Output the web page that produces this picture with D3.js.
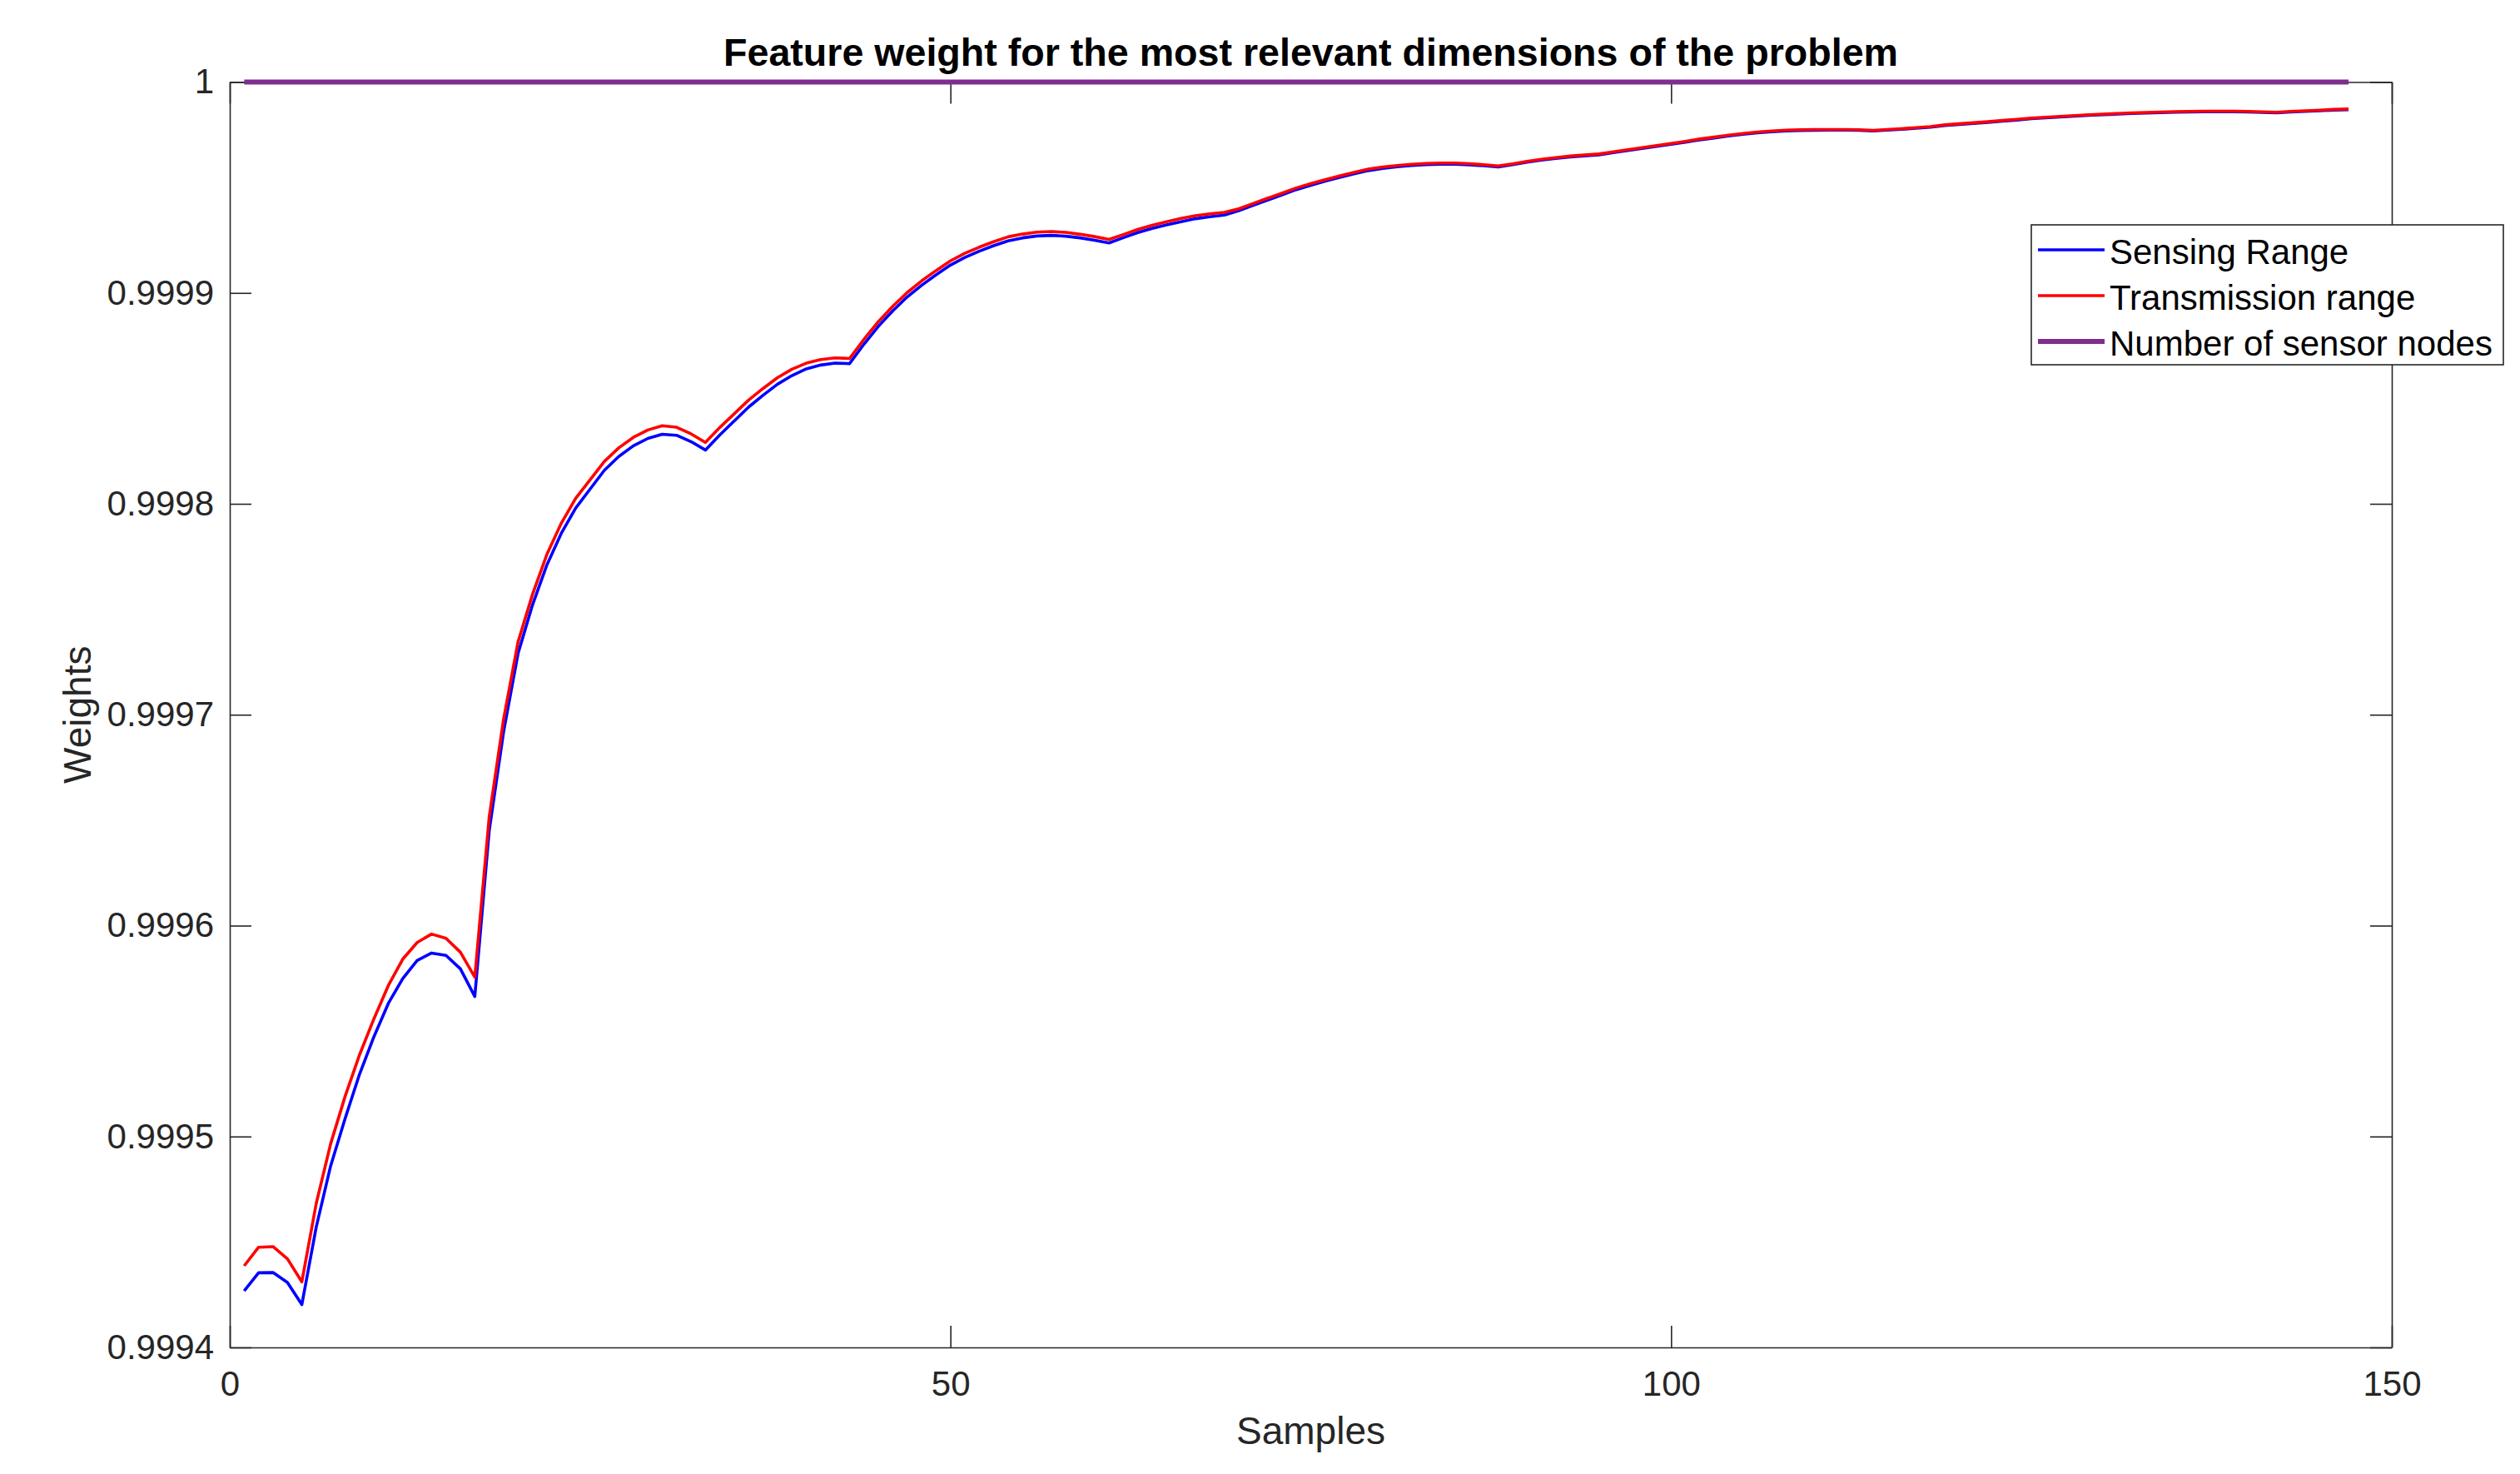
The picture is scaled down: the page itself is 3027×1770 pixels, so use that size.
<!DOCTYPE html>
<html>
<head>
<meta charset="utf-8">
<script src="https://cdn.jsdelivr.net/npm/d3@7"></script>
<style>
  html, body { margin: 0; padding: 0; background: #fff; }
  svg { display: block; }
</style>
</head>
<body>
<svg id="chart" width="3027" height="1770"></svg>
<script>
// ---------------- DATA ----------------
const titleText = "Feature weight for the most relevant dimensions of the problem";
const xLabel = "Samples";
const yLabel = "Weights";
const seriesNames = ["Sensing Range", "Transmission range", "Number of sensor nodes"];
const seriesColors = ["#0000FF", "#FF0000", "#7E2F8E"];

const xTicks = [0, 50, 100, 150];
const xTickLabels = ["0", "50", "100", "150"];
const yTicks = [0.9994, 0.9995, 0.9996, 0.9997, 0.9998, 0.9999, 1];
const yTickLabels = ["0.9994", "0.9995", "0.9996", "0.9997", "0.9998", "0.9999", "1"];

const sensingRange = [
  0.9994268, 0.9994354, 0.9994355, 0.9994308, 0.9994203, 0.9994571, 0.9994861, 0.9995085, 0.9995295, 0.9995473,
  0.9995631, 0.9995749, 0.9995835, 0.9995870, 0.9995859, 0.9995795, 0.9995664, 0.9996450, 0.9996920, 0.9997290,
  0.9997520, 0.9997710, 0.9997860, 0.9997980, 0.9998070, 0.9998160, 0.9998225, 0.9998275, 0.9998310, 0.9998330,
  0.9998325, 0.9998295, 0.9998255, 0.9998327, 0.9998393, 0.9998459, 0.9998515, 0.9998567, 0.9998608, 0.9998640,
  0.9998658, 0.9998667, 0.9998665, 0.9998757, 0.9998842, 0.9998915, 0.9998981, 0.9999036, 0.9999086, 0.9999132,
  0.9999168, 0.9999198, 0.9999224, 0.9999247, 0.9999261, 0.9999270, 0.9999273, 0.9999269, 0.9999261, 0.9999250,
  0.9999237, 0.9999262, 0.9999286, 0.9999306, 0.9999323, 0.9999338, 0.9999352, 0.9999361, 0.9999369, 0.9999390,
  0.9999415, 0.9999440, 0.9999465, 0.9999490, 0.9999510, 0.9999530, 0.9999548, 0.9999565, 0.9999580, 0.9999590,
  0.9999598, 0.9999604, 0.9999608, 0.9999610, 0.9999610, 0.9999607, 0.9999603, 0.9999597, 0.9999608, 0.9999620,
  0.9999630, 0.9999638, 0.9999645, 0.9999650, 0.9999655, 0.9999665, 0.9999675, 0.9999685, 0.9999695, 0.9999705,
  0.9999715, 0.9999726, 0.9999735, 0.9999744, 0.9999752, 0.9999759, 0.9999764, 0.9999768, 0.9999770, 0.9999771,
  0.9999772, 0.9999772, 0.9999771, 0.9999768, 0.9999772, 0.9999776, 0.9999781, 0.9999786, 0.9999794, 0.9999799,
  0.9999804, 0.9999809, 0.9999815, 0.9999820, 0.9999826, 0.9999830, 0.9999834, 0.9999838, 0.9999842, 0.9999845,
  0.9999848, 0.9999851, 0.9999853, 0.9999855, 0.9999857, 0.9999858, 0.9999859, 0.9999859, 0.9999859, 0.9999858,
  0.9999856, 0.9999854, 0.9999858, 0.9999861, 0.9999864, 0.9999867, 0.9999869
];

const transmissionRange = [
  0.9994387, 0.9994475, 0.9994478, 0.9994420, 0.9994311, 0.9994683, 0.9994966, 0.9995190, 0.9995387, 0.9995558,
  0.9995716, 0.9995841, 0.9995920, 0.9995960, 0.9995940, 0.9995874, 0.9995756, 0.9996515, 0.9996980, 0.9997345,
  0.9997570, 0.9997760, 0.9997908, 0.9998026, 0.9998114, 0.9998202, 0.9998266, 0.9998315, 0.9998350, 0.9998370,
  0.9998363, 0.9998332, 0.9998291, 0.9998362, 0.9998427, 0.9998492, 0.9998547, 0.9998598, 0.9998638, 0.9998667,
  0.9998684, 0.9998692, 0.9998689, 0.9998780, 0.9998864, 0.9998937, 0.9999002, 0.9999057, 0.9999106, 0.9999152,
  0.9999188, 0.9999217, 0.9999243, 0.9999266, 0.9999279, 0.9999288, 0.9999291, 0.9999287, 0.9999278, 0.9999267,
  0.9999254, 0.9999277, 0.9999301, 0.9999321, 0.9999338, 0.9999353, 0.9999366, 0.9999375, 0.9999382, 0.9999399,
  0.9999424, 0.9999449, 0.9999473, 0.9999498, 0.9999518, 0.9999537, 0.9999555, 0.9999572, 0.9999587, 0.9999597,
  0.9999604, 0.9999610, 0.9999614, 0.9999616, 0.9999616, 0.9999613, 0.9999608, 0.9999602, 0.9999612, 0.9999624,
  0.9999634, 0.9999642, 0.9999649, 0.9999654, 0.9999659, 0.9999669, 0.9999679, 0.9999689, 0.9999699, 0.9999709,
  0.9999719, 0.9999730, 0.9999739, 0.9999748, 0.9999756, 0.9999763, 0.9999768, 0.9999772, 0.9999774, 0.9999775,
  0.9999775, 0.9999775, 0.9999774, 0.9999771, 0.9999775, 0.9999779, 0.9999784, 0.9999789, 0.9999797, 0.9999802,
  0.9999807, 0.9999812, 0.9999818, 0.9999823, 0.9999829, 0.9999833, 0.9999837, 0.9999841, 0.9999845, 0.9999848,
  0.9999851, 0.9999854, 0.9999856, 0.9999858, 0.9999860, 0.9999861, 0.9999862, 0.9999862, 0.9999862, 0.9999861,
  0.9999859, 0.9999857, 0.9999861, 0.9999864, 0.9999867, 0.9999870, 0.9999872
];

const sensorNodes = [
  1, 1, 1, 1, 1, 1, 1, 1, 1, 1, 1, 1, 1, 1, 1, 1, 1, 1, 1, 1,
  1, 1, 1, 1, 1, 1, 1, 1, 1, 1, 1, 1, 1, 1, 1, 1, 1, 1, 1, 1,
  1, 1, 1, 1, 1, 1, 1, 1, 1, 1, 1, 1, 1, 1, 1, 1, 1, 1, 1, 1,
  1, 1, 1, 1, 1, 1, 1, 1, 1, 1, 1, 1, 1, 1, 1, 1, 1, 1, 1, 1,
  1, 1, 1, 1, 1, 1, 1, 1, 1, 1, 1, 1, 1, 1, 1, 1, 1, 1, 1, 1,
  1, 1, 1, 1, 1, 1, 1, 1, 1, 1, 1, 1, 1, 1, 1, 1, 1, 1, 1, 1,
  1, 1, 1, 1, 1, 1, 1, 1, 1, 1, 1, 1, 1, 1, 1, 1, 1, 1, 1, 1,
  1, 1, 1, 1, 1, 1, 1
];

// ---------------- LAYOUT ----------------
const FONT = "'Liberation Sans', Arial, Helvetica, sans-serif";
const AX = "#262626";
const plotL = 276, plotR = 2873, plotT = 98.5, plotB = 1618;
const tickLen = 26;

const svg = d3.select("#chart");

const x = d3.scaleLinear().domain([0, 150]).range([plotL, plotR]);
const y = d3.scaleLinear().domain([0.9994, 1]).range([plotB, plotT]);

svg.append("rect").attr("x", plotL).attr("y", plotT)
  .attr("width", plotR - plotL).attr("height", plotB - plotT).attr("fill", "#fff");

function styleAxis(g) {
  g.selectAll(".domain").attr("stroke", AX).attr("stroke-width", 1.6);
  g.selectAll(".tick line").attr("stroke", AX).attr("stroke-width", 1.6);
  g.selectAll(".tick text").attr("fill", AX).style("font-family", FONT).style("font-size", "42px");
}

const gB = svg.append("g").attr("transform", `translate(0,${plotB})`)
  .call(d3.axisBottom(x).tickValues(xTicks).tickFormat((d, i) => xTickLabels[i])
    .tickSizeInner(-tickLen).tickSizeOuter(0).tickPadding(28));
styleAxis(gB);

const gT = svg.append("g").attr("transform", `translate(0,${plotT})`)
  .call(d3.axisTop(x).tickValues(xTicks).tickFormat("")
    .tickSizeInner(-tickLen).tickSizeOuter(0));
styleAxis(gT);

const gL = svg.append("g").attr("transform", `translate(${plotL},0)`)
  .call(d3.axisLeft(y).tickValues(yTicks).tickFormat((d, i) => yTickLabels[i])
    .tickSizeInner(-tickLen).tickSizeOuter(0).tickPadding(19));
styleAxis(gL);

const gR = svg.append("g").attr("transform", `translate(${plotR},0)`)
  .call(d3.axisRight(y).tickValues(yTicks).tickFormat("")
    .tickSizeInner(-tickLen).tickSizeOuter(0));
styleAxis(gR);

// ---------------- LINES ----------------
const series = [sensingRange, transmissionRange, sensorNodes];
const widths = [3.6, 3.6, 6];
const line = d3.line().x((d, i) => x(i + 1)).y(d => y(d));

series.forEach((s, k) => {
  svg.append("path").datum(s)
    .attr("d", line)
    .attr("fill", "none")
    .attr("stroke", seriesColors[k])
    .attr("stroke-width", widths[k])
    .attr("stroke-linejoin", "round");
});

// ---------------- TEXT ----------------
svg.append("text").attr("x", (plotL + plotR) / 2).attr("y", 79)
  .attr("text-anchor", "middle").style("font-family", FONT).style("font-size", "46.6px")
  .style("font-weight", "bold").attr("fill", "#000").text(titleText);

svg.append("text").attr("x", (plotL + plotR) / 2).attr("y", 1734)
  .attr("text-anchor", "middle").style("font-family", FONT).style("font-size", "46px")
  .attr("fill", AX).text(xLabel);

svg.append("text")
  .attr("transform", `translate(109,${(plotT + plotB) / 2}) rotate(-90)`)
  .attr("text-anchor", "middle").style("font-family", FONT).style("font-size", "46px")
  .attr("fill", AX).text(yLabel);

// ---------------- LEGEND ----------------
const lg = svg.append("g");
const lgX = 2440, lgY = 270, lgW = 567, lgH = 168;
lg.append("rect").attr("x", lgX).attr("y", lgY).attr("width", lgW).attr("height", lgH)
  .attr("fill", "#fff").attr("stroke", AX).attr("stroke-width", 1.6);
const rowY = [300, 355, 410];
seriesNames.forEach((name, k) => {
  lg.append("line").attr("x1", 2448).attr("x2", 2528)
    .attr("y1", rowY[k]).attr("y2", rowY[k])
    .attr("stroke", seriesColors[k]).attr("stroke-width", widths[k]);
  lg.append("text").attr("x", 2534).attr("y", rowY[k] + 17)
    .style("font-family", FONT).style("font-size", "42px").attr("fill", "#000").text(name);
});
</script>
</body>
</html>
